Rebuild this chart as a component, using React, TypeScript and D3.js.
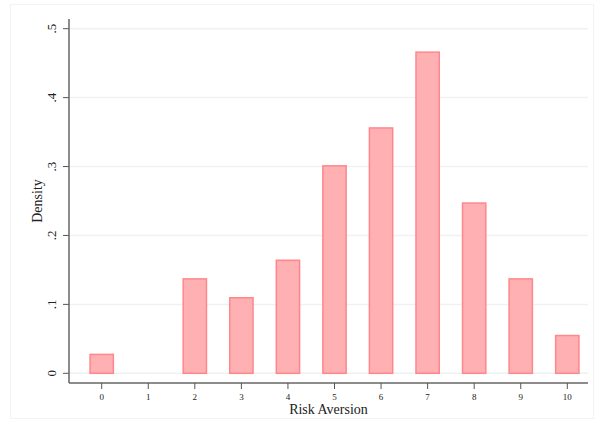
import React from "react";
import * as d3 from "d3";

const categories = [0, 1, 2, 3, 4, 5, 6, 7, 8, 9, 10];
const densities = [0.0274, 0, 0.137, 0.1096, 0.164, 0.301, 0.356, 0.466, 0.247, 0.137, 0.0548];
const yTicks = [0, 0.1, 0.2, 0.3, 0.4, 0.5];
const yTickLabels = ["0", ".1", ".2", ".3", ".4", ".5"];

const W = 595, H = 424;
const axisLeft = 69, axisRight = 588, axisBottom = 383, axisTop = 19;

export default function App() {
  const x = d3.scaleLinear().domain([0, 10]).range([101.7, 567.3]);
  const y = d3.scaleLinear().domain([0, 0.5]).range([373.3, 28.7]);
  const bw = x(0.5) - x(0);
  return (
    <svg width={W} height={H} style={{ position: "absolute", left: 0, top: 0 }}>
      <rect x={0} y={0} width={W} height={H} fill="#fff" />
      <rect x={10.5} y={4.5} width={583} height={414} fill="none" stroke="#f2f4f4" strokeWidth={1} />
      {yTicks.map((t, i) => (
        <g key={i}>
          <line x1={axisLeft} x2={axisRight} y1={y(t)} y2={y(t)} stroke="#eef2f2" strokeWidth={1.5} />
          <line x1={axisLeft - 6} x2={axisLeft} y1={y(t)} y2={y(t)} stroke="#555" strokeWidth={1} />
          <text
            transform={`translate(${56},${y(t)}) rotate(-90)`}
            textAnchor="middle"
            fontFamily="Liberation Serif"
            fontSize={13}
            fill="#222"
          >
            {yTickLabels[i]}
          </text>
        </g>
      ))}
      {categories.map((c, i) =>
        densities[i] > 0 ? (
          <rect
            key={c}
            x={x(c) - bw / 2}
            y={y(densities[i])}
            width={bw}
            height={y(0) - y(densities[i])}
            fill="rgb(255,176,179)"
            stroke="rgb(255,135,140)"
            strokeWidth={1.5}
          />
        ) : null
      )}
      <line x1={axisLeft} x2={axisLeft} y1={axisTop} y2={axisBottom} stroke="#666" strokeWidth={1.5} />
      <line x1={axisLeft} x2={axisRight} y1={axisBottom} y2={axisBottom} stroke="#666" strokeWidth={1.5} />
      {categories.map((c) => (
        <g key={c}>
          <line x1={x(c)} x2={x(c)} y1={axisBottom} y2={axisBottom + 6} stroke="#555" strokeWidth={1} />
          <text x={x(c)} y={axisBottom + 17} textAnchor="middle" fontFamily="Liberation Serif" fontSize={9} fill="#222">
            {c}
          </text>
        </g>
      ))}
      <text x={(axisLeft + axisRight) / 2} y={414} textAnchor="middle" fontFamily="Liberation Serif" fontSize={14} fill="#222">
        Risk Aversion
      </text>
      <text
        transform={`translate(${42},${(axisTop + axisBottom) / 2}) rotate(-90)`}
        textAnchor="middle"
        fontFamily="Liberation Serif"
        fontSize={14}
        fill="#222"
      >
        Density
      </text>
    </svg>
  );
}
